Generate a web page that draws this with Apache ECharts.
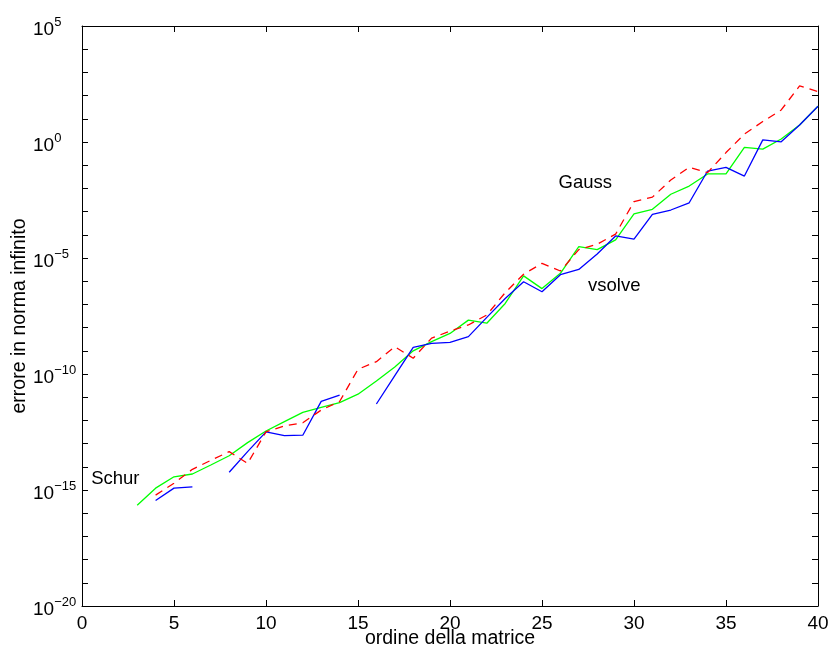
<!DOCTYPE html>
<html>
<head>
<meta charset="utf-8">
<script src="https://cdn.jsdelivr.net/npm/echarts@6/dist/echarts.min.js"></script>
<style>
  html, body { margin: 0; padding: 0; background: #fff; }
  #chart { width: 830px; height: 652px; }
</style>
</head>
<body>
<div id="chart"></div>
<script>
// Matrix order n = 3 .. 40
const ordine = [3, 4, 5, 6, 7, 8, 9, 10, 11, 12, 13, 14, 15, 16, 17, 18, 19, 20, 21,
  22, 23, 24, 25, 26, 27, 28, 29, 30, 31, 32, 33, 34, 35, 36, 37, 38, 39, 40];

// Infinity-norm error of each solver (null = no result)
const erroreSchur = [2.2e-16, 1.2e-15, 3.7e-15, 4.9e-15, 1.2e-14, 3.0e-14, 1.1e-13, 3.5e-13,
  8.9e-13, 2.2e-12, 3.6e-12, 5.8e-12, 1.35e-11, 5.0e-11, 2.0e-10, 1.0e-9, 2.5e-9, 5.6e-9,
  2.1e-8, 1.55e-8, 1.1e-7, 1.7e-6, 4.8e-7, 2.2e-6, 3.1e-5, 2.3e-5, 6.0e-5, 7.9e-4, 1.26e-3,
  5.6e-3, 1.26e-2, 4.2e-2, 4.2e-2, 0.59, 0.49, 1.35, 5.4, 35];

const erroreVsolve = [null, 3.5e-16, 1.2e-15, 1.35e-15, null, 5.8e-15, 4.5e-14, 3.2e-13,
  2.2e-13, 2.3e-13, 6.6e-12, 1.23e-11, null, 5.1e-12, 8.5e-11, 1.4e-9, 2.1e-9, 2.3e-9,
  4.1e-9, 2.75e-8, 1.8e-7, 9.5e-7, 3.5e-7, 1.9e-6, 3.2e-6, 1.5e-5, 8.9e-5, 6.5e-5, 7.6e-4,
  1.17e-3, 2.4e-3, 5.6e-2, 8.1e-2, 3.4e-2, 1.23, 1.02, 5.4, 35];

const erroreGauss = [null, 6.0e-16, 1.95e-15, 7.8e-15, 1.9e-14, 4.5e-14, 1.4e-14, 3.2e-13,
  5.8e-13, 7.9e-13, 2.8e-12, 6.5e-12, 1.6e-10, 3.4e-10, 1.5e-9, 4.8e-10, 3.5e-9, 7.1e-9,
  1.3e-8, 3.5e-8, 3.2e-7, 2.0e-6, 5.9e-6, 2.75e-6, 2.3e-5, 3.9e-5, 1.07e-4, 2.7e-3, 4.2e-3,
  2.3e-2, 8.1e-2, 4.8e-2, 0.35, 2.2, 7.6, 24, 260, 150];

// Curve annotations, anchored in data coordinates (left edge, vertical middle)
const etichette = [
  { testo: 'Gauss', x: 25.9, y: 1.7e-2 },
  { testo: 'vsolve', x: 27.5, y: 6.5e-7 },
  { testo: 'Schur', x: 0.5, y: 3.0e-15 }
];

const FONT = '"Liberation Sans", Arial, Helvetica, sans-serif';
const MINUS = '\u2212';

// Decade labels: only every fifth power of ten carries a label
function expLabel(v) {
  const e = Math.round(Math.log10(v));
  if (e % 5 !== 0) return '';
  return '{b|10}{s|' + String(e).replace('-', MINUS) + '}';
}

const pairs = arr => ordine.map((n, i) => [n, arr[i] == null ? '-' : arr[i]]);

const chart = echarts.init(document.getElementById('chart'), null, { renderer: 'canvas' });

const axisLineStyle = { show: true, onZero: false, lineStyle: { color: '#000', width: 1 } };
const innerTicks = { show: true, inside: true, length: 6, lineStyle: { color: '#000', width: 1 } };

chart.setOption({
  animation: false,
  backgroundColor: '#fff',
  textStyle: { fontFamily: FONT },
  grid: {
    left: 82, right: 12, top: 26, bottom: 46,
    containLabel: false, outerBoundsMode: 'none'
  },
  xAxis: [
    {
      type: 'value', min: 0, max: 40, interval: 5, position: 'bottom',
      name: 'ordine della matrice', nameLocation: 'middle', nameGap: 23, nameMoveOverlap: false,
      nameTextStyle: { color: '#000', fontSize: 19.5, fontFamily: FONT },
      axisLine: axisLineStyle,
      axisTick: innerTicks,
      axisLabel: { color: '#000', fontSize: 19, fontFamily: FONT, margin: 8 },
      splitLine: { show: false }
    },
    {
      type: 'value', min: 0, max: 40, interval: 5, position: 'top',
      axisLine: axisLineStyle,
      axisTick: innerTicks,
      axisLabel: { show: false },
      splitLine: { show: false }
    }
  ],
  yAxis: [
    {
      type: 'log', logBase: 10, min: 1e-20, max: 1e5, interval: 1, position: 'left',
      name: 'errore in norma infinito', nameLocation: 'middle', nameGap: 52, nameMoveOverlap: false,
      nameTextStyle: { color: '#000', fontSize: 19.5, fontFamily: FONT },
      axisLine: axisLineStyle,
      axisTick: innerTicks,
      axisLabel: {
        formatter: expLabel, align: 'left', margin: 49,
        rich: {
          b: { fontSize: 19, color: '#000', fontFamily: FONT, padding: [8, 0, 0, 0] },
          s: { fontSize: 13, color: '#000', fontFamily: FONT, padding: [0, 0, 8, 0] }
        }
      },
      splitLine: { show: false }
    },
    {
      type: 'log', logBase: 10, min: 1e-20, max: 1e5, interval: 1, position: 'right',
      axisLine: axisLineStyle,
      axisTick: innerTicks,
      axisLabel: { show: false },
      splitLine: { show: false }
    }
  ],
  series: [
    {
      name: 'Schur', type: 'line', data: pairs(erroreSchur),
      showSymbol: false, connectNulls: false,
      lineStyle: { color: '#00ff00', width: 1.3 }, itemStyle: { color: '#00ff00' }
    },
    {
      name: 'vsolve', type: 'line', data: pairs(erroreVsolve),
      showSymbol: false, connectNulls: false,
      lineStyle: { color: '#0000ff', width: 1.3 }, itemStyle: { color: '#0000ff' }
    },
    {
      name: 'Gauss', type: 'line', data: pairs(erroreGauss),
      showSymbol: false, connectNulls: false,
      lineStyle: { color: '#ff0000', width: 1.3, type: [8, 6] }, itemStyle: { color: '#ff0000' }
    }
  ]
});

// Place the curve annotations through the chart's own coordinate conversion
chart.setOption({
  graphic: etichette.map(e => {
    const p = chart.convertToPixel({ xAxisIndex: 0, yAxisIndex: 0 }, [e.x, e.y]);
    return {
      type: 'text', x: p[0], y: p[1],
      style: { text: e.testo, fill: '#000', font: '18.5px ' + FONT, textAlign: 'left', textVerticalAlign: 'middle' }
    };
  })
});
</script>
</body>
</html>
